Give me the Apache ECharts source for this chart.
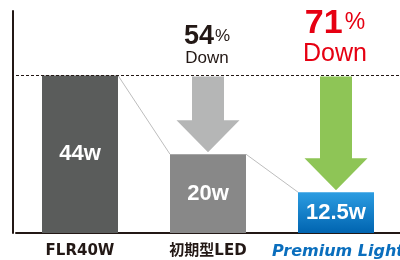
<!DOCTYPE html>
<html>
<head>
<meta charset="utf-8">
<script src="https://cdn.jsdelivr.net/npm/echarts@6/dist/echarts.min.js"></script>
<style>
  html, body { margin: 0; padding: 0; background: #fff; }
  #chart { width: 400px; height: 260px; }
</style>
</head>
<body>
<div id="chart"></div>
<script>
// categories and bar heights as drawn (in W scale)
const categories = ['FLR40W', '初期型LED', 'Premium Light']
const barHeights = [44, 22, 11.4]
const wattLabels = ['44w', '20w', '12.5w']
// reduction arrows: from category index, reference level, target level
const reductionPct = ['54', '71']
const arrowFrom = [44, 44]
const arrowTo = [22, 11.4]

const BAR_W = 76
const barColors = [
  '#5a5c5b',
  '#888888',
  new echarts.graphic.LinearGradient(0, 0, 0, 1, [
    { offset: 0, color: '#2c9de2' },
    { offset: 1, color: '#0064b0' }
  ])
]

const chart = echarts.init(document.getElementById('chart'))

// thin grey connectors between bar tops
const connectorData = barHeights.slice(0, -1).map((v, i) => [i, v, barHeights[i + 1]])
// arrows sit on the 2nd and 3rd categories
const arrowData = reductionPct.map((p, i) => [i + 1, arrowFrom[i], arrowTo[i], i])
const arrowColors = ['#b5b6b6', '#8ec556']

function renderConnector(params, api) {
  const a = api.coord([api.value(0), api.value(1)])
  const b = api.coord([api.value(0) + 1, api.value(2)])
  return {
    type: 'line',
    shape: { x1: a[0] + BAR_W / 2, y1: a[1], x2: b[0] - BAR_W / 2, y2: b[1] },
    style: { stroke: '#bdbdbd', lineWidth: 1 }
  }
}

function renderArrow(params, api) {
  const idx = api.value(3)
  const top = api.coord([api.value(0), api.value(1)])
  const bot = api.coord([api.value(0), api.value(2)])
  const cx = top[0], y0 = top[1] + 1
  const tip = bot[1] - 2
  const headH = 32, shaftW = 32, headW = 63
  const neck = tip - headH
  const color = arrowColors[idx]
  const red = idx === 1
  const children = [{
    type: 'polygon',
    shape: {
      points: [
        [cx - shaftW / 2, y0], [cx + shaftW / 2, y0], [cx + shaftW / 2, neck],
        [cx + headW / 2, neck], [cx, tip], [cx - headW / 2, neck], [cx - shaftW / 2, neck]
      ]
    },
    style: { fill: color }
  }, {
    type: 'text',
    x: cx - 1, y: red ? top[1] - 35 : top[1] - 25,
    style: {
      text: '{n|' + reductionPct[idx] + '}{p|%}',
      align: 'center', verticalAlign: 'bottom',
      rich: red ? {
        n: { fontSize: 34, fontWeight: 'bold', fill: '#e60012', fontFamily: 'Liberation Sans' },
        p: { fontSize: 23, fill: '#e60012', fontFamily: 'Liberation Sans', padding: [0, 0, 1, 2] }
      } : {
        n: { fontSize: 27, fontWeight: 'bold', fill: '#231815', fontFamily: 'Liberation Sans' },
        p: { fontSize: 17, fill: '#231815', fontFamily: 'Liberation Sans', padding: [0, 0, 1, 1] }
      }
    }
  }, {
    type: 'text',
    x: cx - 1, y: top[1] - 9,
    style: {
      text: 'Down',
      align: 'center', verticalAlign: 'bottom',
      fontFamily: 'Liberation Sans',
      fontSize: red ? 25 : 17,
      fill: red ? '#e60012' : '#231815'
    }
  }]
  return { type: 'group', children }
}

chart.setOption({
  animation: false,
  grid: { left: 16, right: 0, top: 11, bottom: 27, outerBoundsMode: 'none', containLabel: false },
  xAxis: {
    type: 'category',
    data: categories,
    axisTick: { show: false },
    axisLine: { lineStyle: { color: '#231815', width: 2 } },
    axisLabel: {
      interval: 0,
      hideOverlap: false,
      margin: 11,
      formatter: (v, i) => i === 2 ? '{pl|' + v + '}' : '{c|' + v + '}',
      rich: {
        c: { fontSize: 15, fontWeight: 'bold', color: '#231815', fontFamily: 'DejaVu Sans, Noto Sans CJK JP' },
        pl: { fontSize: 16, fontWeight: 'bold', fontStyle: 'italic', color: '#0a6ebd', fontFamily: 'DejaVu Sans', padding: [0, 0, 0, 4] }
      }
    }
  },
  yAxis: {
    type: 'value',
    min: 0,
    max: 62,
    offset: 3,
    axisLine: { show: true, lineStyle: { color: '#231815', width: 2 } },
    axisTick: { show: false },
    axisLabel: { show: false },
    splitLine: { show: false }
  },
  series: [
    {
      type: 'bar',
      barWidth: BAR_W,
      data: barHeights.map((v, i) => ({ value: v, itemStyle: { color: barColors[i] } })),
      label: {
        show: true,
        position: 'inside',
        formatter: p => wattLabels[p.dataIndex],
        color: '#fff',
        fontSize: 22,
        fontWeight: 'bold',
        fontFamily: 'Liberation Sans'
      },
      markLine: {
        silent: true,
        symbol: 'none',
        label: { show: false },
        lineStyle: { color: '#231815', type: [3, 2], width: 1 },
        data: [{ yAxis: barHeights[0] }]
      },
      z: 2
    },
    {
      type: 'custom',
      renderItem: renderConnector,
      data: connectorData,
      z: 1
    },
    {
      type: 'custom',
      renderItem: renderArrow,
      data: arrowData,
      z: 3
    }
  ]
})
</script>
</body>
</html>
